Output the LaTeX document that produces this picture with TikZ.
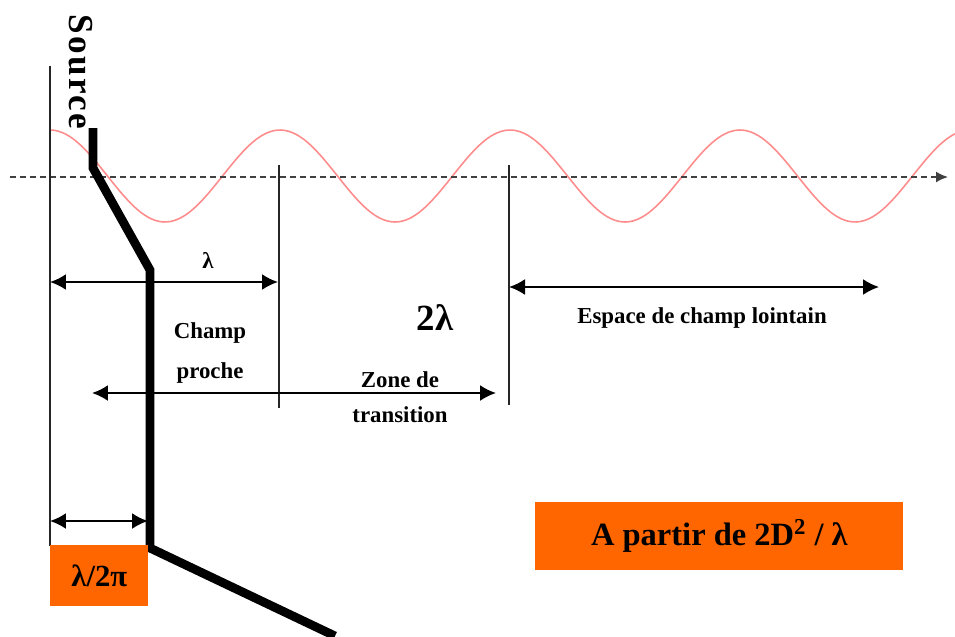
\documentclass[tikz,border=0pt]{standalone}
\usepackage{fontspec}
\setmainfont{Liberation Serif}
\usepackage{tikz}
\usetikzlibrary{arrows.meta,positioning,calc}
\definecolor{boxorange}{HTML}{FF6600}

\begin{document}
\begin{tikzpicture}[
    x=0.02cm, y=-0.02cm,
    thin line/.style={line width=1.1pt, color=black!85},
    dim/.style={{Latex[length=3.2mm, width=3.2mm]}-{Latex[length=3.2mm, width=3.2mm]}, line width=1.2pt},
    wave/.style={red!45, line width=0.9pt},
    axis/.style={-{Latex[length=2.4mm, width=2.2mm]}, dash pattern=on 3.4pt off 2.3pt, line width=1pt, color=black!75},
    antenna/.style={line width=5pt, line join=miter},
    lbl/.style={font=\fontsize{#1}{#1}\selectfont\bfseries, inner sep=0pt},
    lbl/.default=13,
    hl/.style={fill=boxorange, inner sep=0pt}
]
\useasboundingbox (0,0) rectangle (955,636);

% Wave and propagation axis
\draw[wave, domain=50:955, samples=240, smooth] plot (\x, {176 - 46*cos(((\x-50)/230)*360)});
\coordinate (axl) at (10,177);
\coordinate (axr) at (948,177);
\draw[axis] (axl) -- (axr);

% Zone boundaries
\draw[thin line] (50,66) -- (50,546);
\draw[thin line] (279,165) -- (279,408);
\draw[thin line] (509,165) -- (509,405);

% Source label
\node[lbl=20, rotate=-90] (src) at (81,72) {\addfontfeature{LetterSpace=7}Source};

% Dimension arrows
\coordinate (nl) at (50,282);
\coordinate (nr) at (278,282);
\draw[dim] (nl) -- (nr);
\node[lbl=13] (lam) at (208,260) {λ};

\coordinate (tl) at (92,393);
\coordinate (tr) at (496,393);
\draw[dim] (tl) -- (tr);

\coordinate (fl) at (509,287);
\coordinate (fr) at (879,287);
\draw[dim] (fl) -- (fr);

\coordinate (rl) at (50,521);
\coordinate (rr) at (148,521);
\draw[dim] (rl) -- (rr);

% Antenna
\draw[antenna] (93,128) -- (93,168) -- (150,270) -- (150,548) -- (335,636);

% Texts
\node[lbl=13, align=center] (cp) at (210,353) {Champ\\[10pt]proche};
\node[lbl=21] (two) at (435,318) {2λ};
\node[lbl=13, align=center, anchor=north] (zt) at (400,371) {Zone de\\[7pt]transition};
\node[lbl=13] (esp) at (702,318) {Espace de champ lointain};

% Highlighted boxes
\node[hl, minimum width=98*0.02cm, minimum height=61*0.02cm, anchor=north west] (rbox) at (50,545) {};
\node[lbl=17.5] at (rbox.center) {λ/2π};
\node[hl, minimum width=368*0.02cm, minimum height=68*0.02cm, anchor=north west] (fbox) at (535,502) {};
\node[lbl=18.5] at (fbox.center) {A partir de 2D\textsuperscript{2} / λ};

\end{tikzpicture}
\end{document}
